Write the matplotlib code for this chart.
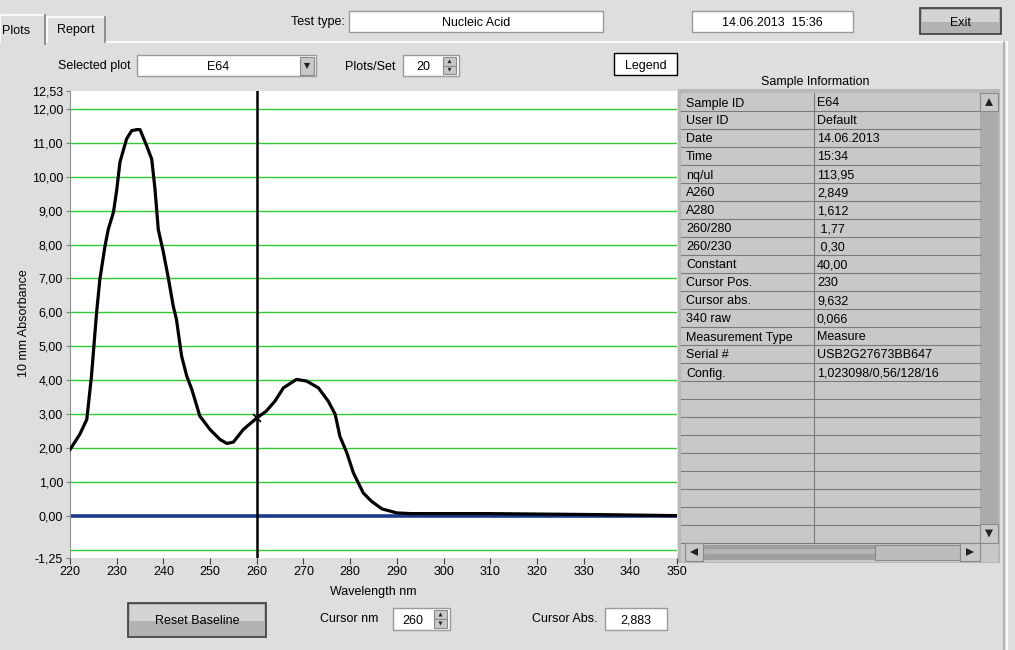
import numpy as np
import matplotlib
matplotlib.use('Agg')
import matplotlib.pyplot as plt
from matplotlib.patches import Rectangle, Polygon

plt.rcParams['font.family'] = ['Liberation Sans', 'DejaVu Sans']
plt.rcParams['font.size'] = 9

# spectrum (nm / 10 mm absorbance)
wavelength = [220, 222.1, 223.6, 224.6, 225.7, 226.4, 227.5, 228.2, 229.3, 230.0,
              230.7, 232.1, 233.2, 234.3, 235.0, 236.4, 237.5, 238.2, 238.9, 240.0,
              241.1, 242.1, 242.8, 243.9, 245.0, 246.1, 247.8, 250.0, 252.1, 253.6,
              255.0, 257.1, 260.0, 262.0, 263.9, 265.7, 268.5, 270.7, 273.2, 275.3,
              276.8, 277.8, 279.3, 280.7, 282.8, 284.6, 286.8, 290.0, 293.0, 306.4,
              309.3, 333.5, 350]
absorbance = [1.95, 2.40, 2.84, 4.12, 6.00, 6.98, 7.96, 8.45, 8.95, 9.60,
              10.43, 11.11, 11.36, 11.39, 11.39, 10.92, 10.52, 9.64, 8.45, 7.77,
              6.98, 6.19, 5.79, 4.71, 4.12, 3.72, 2.94, 2.54, 2.25, 2.13,
              2.17, 2.54, 2.88, 3.08, 3.38, 3.77, 4.02, 3.97, 3.77, 3.38,
              2.99, 2.34, 1.85, 1.26, 0.67, 0.42, 0.20, 0.08, 0.06, 0.06,
              0.06, 0.03, 0.0]
baseline_wl = [220, 350]
baseline_abs = [0.0, 0.0]

ytick_vals = [-1.25, 0, 1, 2, 3, 4, 5, 6, 7, 8, 9, 10, 11, 12, 12.53]
grid_vals = [-1, 1, 2, 3, 4, 5, 6, 7, 8, 9, 10, 11, 12]
xtick_vals = [220, 230, 240, 250, 260, 270, 280, 290, 300, 310, 320, 330, 340, 350]

cursor_nm = 260
cursor_abs = 2.883

info_keys = ['Sample ID', 'User ID', 'Date', 'Time', 'nq/ul', 'A260', 'A280',
             '260/280', '260/230', 'Constant', 'Cursor Pos.', 'Cursor abs.',
             '340 raw', 'Measurement Type', 'Serial #', 'Config.']
info_vals = ['E64', 'Default', '14.06.2013', '15:34', '113,95', '2,849', '1,612',
             ' 1,77', ' 0,30', '40,00', '230', '9,632', '0,066', 'Measure',
             'USB2G27673BB647', '1,023098/0,56/128/16']

BG = '#DEDEDE'
W, H = 1015, 650
DY = 1.5  # text sits a bit high with va=center

fig = plt.figure(figsize=(W / 100, H / 100), dpi=100, facecolor=BG)
ui = fig.add_axes([0, 0, 1, 1])
ui.set_xlim(0, W)
ui.set_ylim(H, 0)
ui.axis('off')


def label(x, y, text, ha='center', **kw):
    ui.text(x, y + DY, text, ha=ha, va='center', zorder=3, **kw)


def rect(x, y, w, h, fc, ec='none', lw=1, z=1):
    ui.add_patch(Rectangle((x, y), w, h, fc=fc, ec=ec, lw=lw, zorder=z))


def field(x, y, w, h, text='', cx=None):
    rect(x, y, w, h, 'white', '#9A9A9A')
    if text:
        label(cx if cx else x + w / 2, y + h / 2, text)


def button(x, y, w, h, text):
    rect(x, y, w, h, '#B2B2B2', z=1)
    rect(x + 2, y + 2, w - 4, h * 0.48, '#D4D4D4', z=1)
    rect(x, y, w, h, 'none', '#3C3C3C', lw=1.2, z=2)
    label(x + w / 2, y + h / 2, text)


def arrow_btn(x, y, w, h, direction):
    rect(x, y, w, h, '#C8C8C8', '#8A8A8A', lw=0.8, z=2)
    cx, cy = x + w / 2, y + h / 2
    s = min(w, h) * 0.22
    if direction == 'up':
        pts = [(cx - s, cy + s), (cx + s, cy + s), (cx, cy - s)]
    elif direction == 'down':
        pts = [(cx - s, cy - s), (cx + s, cy - s), (cx, cy + s)]
    elif direction == 'left':
        pts = [(cx + s, cy - s), (cx + s, cy + s), (cx - s, cy)]
    else:
        pts = [(cx - s, cy - s), (cx - s, cy + s), (cx + s, cy)]
    ui.add_patch(Polygon(pts, closed=True, fc='#202020', ec='none', zorder=3))


def spin(x, y, w, h, text, cx):
    field(x, y, w, h, text, cx)
    arrow_btn(x + w - 16, y + 2, 13, (h - 4) / 2, 'up')
    arrow_btn(x + w - 16, y + 2 + (h - 4) / 2, 13, (h - 4) / 2, 'down')


# tabs
ui.plot([105, 1007], [42, 42], color='white', lw=1.2)
ui.plot([1007, 1007], [42, H], color='white', lw=1.2)
ui.plot([1004, 1004], [42, H], color='#A8A8A8', lw=1.2)
ui.plot([0, 0, 44], [42, 15, 15], color='white', lw=1.2)
ui.plot([45, 45], [15, 44], color='#808080', lw=1.2)
ui.plot([47, 47, 104], [42, 17, 17], color='white', lw=1.2)
ui.plot([105, 105], [17, 42], color='#808080', lw=1.2)
label(16, 29, 'Plots')
label(76, 29, 'Report')

# top row
label(345, 21, 'Test type:', ha='right')
field(349, 11, 254, 21, 'Nucleic Acid')
field(692, 11, 161, 21, '14.06.2013  15:36')
button(920, 8, 81, 26, 'Exit')

# second row
label(131, 65, 'Selected plot', ha='right')
field(137, 55, 179, 21, 'E64', cx=218)
arrow_btn(300, 57, 14, 18, 'down')
label(396, 66, 'Plots/Set', ha='right')
spin(403, 55, 56, 21, '20', 423)
rect(614, 53, 63, 22, 'white', 'black', lw=1)
label(645.5, 64, 'Legend')

# sample information table
label(815, 80, 'Sample Information')
rect(678, 89, 322, 474, '#B8B8B8')
rect(681, 93, 299, 450, '#C8C8C8')
row_h = 18
for k in range(1, 26):
    yy = 93 + k * row_h
    ui.plot([681, 980], [yy, yy], color='#7A7A7A', lw=0.8, zorder=2)
ui.plot([814, 814], [93, 543], color='#7A7A7A', lw=0.8, zorder=2)
for i, (k, v) in enumerate(zip(info_keys, info_vals)):
    yc = 93 + i * row_h + row_h / 2
    label(686, yc, k, ha='left')
    label(817, yc, v, ha='left')

# scrollbars
rect(980, 93, 18, 450, '#ABABAB')
arrow_btn(980, 93, 18, 18, 'up')
arrow_btn(980, 524, 18, 19, 'down')
rect(681, 543, 317, 19, '#C8C8C8')
rect(703, 545, 172, 15, '#9E9E9E')
rect(703, 549, 172, 5, '#B4B4B4')
rect(875, 545, 85, 15, '#BCBCBC', '#8A8A8A', lw=0.8)
arrow_btn(685, 543, 18, 18, 'left')
arrow_btn(960, 543, 20, 18, 'right')

# bottom row
button(128, 603, 138, 34, 'Reset Baseline')
label(320, 617, 'Cursor nm', ha='left')
spin(393, 608, 57, 22, '260', 413)
label(598, 618, 'Cursor Abs.', ha='right')
field(605, 608, 62, 22, f'{cursor_abs:.3f}'.replace('.', ','))

# axis titles
ui.text(24, 323, '10 mm Absorbance', rotation=90, ha='center', va='center')
label(373, 591, 'Wavelength nm')

# spectrum plot
ax = fig.add_axes([70 / W, 1 - 558 / H, 607 / W, 467 / H])
ax.set_facecolor('white')
ax.set_xlim(220, 350)
ax.set_ylim(-1.25, 12.53)
for g in grid_vals:
    ax.axhline(g, color='#2ECC2E', lw=1, zorder=1)
ax.plot(baseline_wl, baseline_abs, color='#1C3A8C', lw=2.6, zorder=2)
ax.plot(wavelength, absorbance, color='black', lw=2.3, zorder=3,
        solid_joinstyle='round')
ax.axvline(cursor_nm, color='black', lw=1.8, zorder=4)
ax.plot([cursor_nm], [cursor_abs], marker='x', color='black', ms=6, mew=1.2, zorder=5)

ax.set_yticks(ytick_vals)
ax.set_yticklabels([f'{v:.2f}'.replace('.', ',') for v in ytick_vals])
ax.set_xticks(xtick_vals)
ax.set_xticklabels([str(v) for v in xtick_vals])
ax.tick_params(axis='y', length=3, pad=2, color='#808080', labelsize=9)
ax.tick_params(axis='x', length=4, pad=2, color='#404040', labelsize=9)
for s in ['top', 'right', 'bottom']:
    ax.spines[s].set_visible(False)
ax.spines['left'].set_color('#909090')

fig.savefig('out.png', dpi=100, facecolor=BG)
